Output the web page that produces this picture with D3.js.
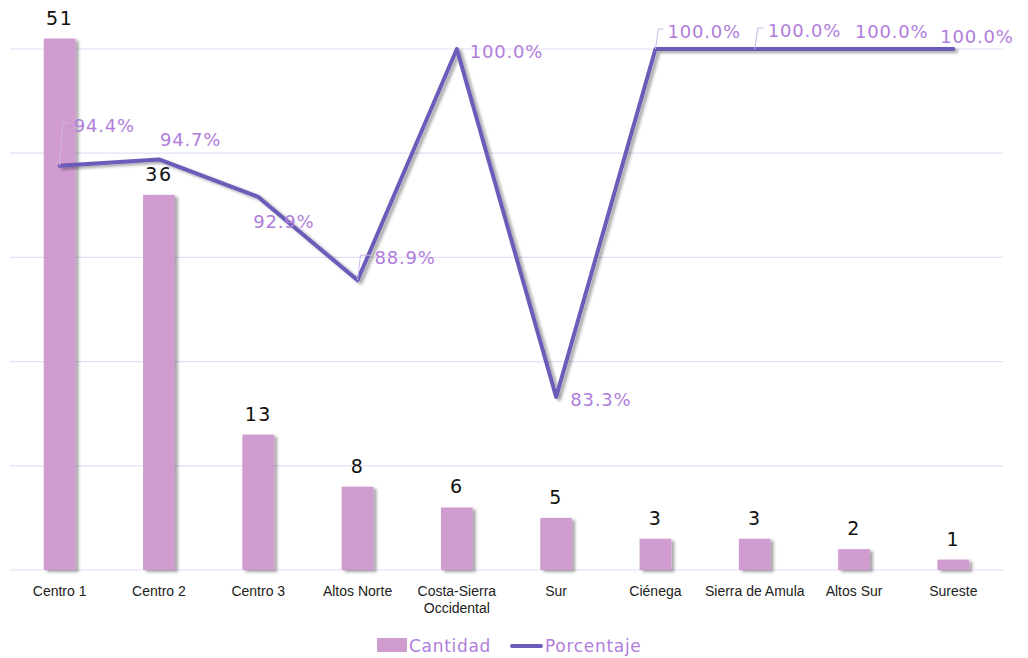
<!DOCTYPE html>
<html>
<head>
<meta charset="utf-8">
<script src="https://cdn.jsdelivr.net/npm/d3@7"></script>
<style>
  html, body { margin: 0; padding: 0; background: #fff; }
  svg { display: block; }
</style>
</head>
<body>
<div id="chart"></div>
<script>
const regions = ['Centro 1', 'Centro 2', 'Centro 3', 'Altos Norte', 'Costa-Sierra\nOccidental',
                 'Sur', 'Ciénega', 'Sierra de Amula', 'Altos Sur', 'Sureste'];
const cantidad   = [51, 36, 13, 8, 6, 5, 3, 3, 2, 1];
const porcentaje = [94.4, 94.7, 92.9, 88.9, 100.0, 83.3, 100.0, 100.0, 100.0, 100.0];
const countTicks = [0, 10, 20, 30, 40, 50];

// label placement for the percentage labels (dx, dy from the point; leader = elbow line)
const pctLabelPos = [
  { dx: 14, dy: -34, leader: true },
  { dx: 1,  dy: -13 },
  { dx: -5, dy: 31 },
  { dx: 17, dy: -16, leader: true },
  { dx: 13, dy: 9 },
  { dx: 14, dy: 9 },
  { dx: 12, dy: -11, leader: true },
  { dx: 13, dy: -12, leader: true },
  { dx: 1,  dy: -11 },
  { dx: -13, dy: -6 }
];

const BAR   = '#d09ccf';
const LINE  = '#6a5cb8';
const PCT   = '#b07ddc';
const GRID  = '#e8dcf7';
const INK   = '#111';
const W = 1028, H = 658;
const plotL = 10, plotR = 1003, plotT = 49, plotB = 570;

const svg = d3.select('#chart').append('svg')
  .attr('width', W).attr('height', H)
  .attr('viewBox', `0 0 ${W} ${H}`);

const defs = svg.append('defs');
const shadow = defs.append('filter').attr('id', 'shadow')
  .attr('x', '-20%').attr('y', '-20%').attr('width', '150%').attr('height', '150%');
shadow.append('feDropShadow')
  .attr('dx', 3).attr('dy', 2).attr('stdDeviation', 1.6)
  .attr('flood-color', '#000').attr('flood-opacity', 0.35);

const x = d3.scaleBand().domain(regions).range([plotL, plotR]).paddingInner(0.68).paddingOuter(0.34);
const yCount = d3.scaleLinear().domain([0, 50]).range([plotB, plotT]);
const yPct = d3.scaleLinear().domain([75, 100]).range([plotB, plotT]);
const cx = d => x(d) + x.bandwidth() / 2;

// gridlines
svg.append('g').selectAll('line')
  .data(countTicks)
  .join('line')
  .attr('x1', plotL).attr('x2', plotR)
  .attr('y1', d => yCount(d)).attr('y2', d => yCount(d))
  .attr('stroke', GRID).attr('stroke-width', 1.2);

// bars
svg.append('g').selectAll('rect')
  .data(regions)
  .join('rect')
  .attr('x', d => x(d))
  .attr('y', (d, i) => yCount(cantidad[i]))
  .attr('width', x.bandwidth())
  .attr('height', (d, i) => plotB - yCount(cantidad[i]))
  .attr('fill', BAR)
  .attr('filter', 'url(#shadow)');

// bar value labels
svg.append('g').selectAll('text')
  .data(regions)
  .join('text')
  .attr('x', d => cx(d))
  .attr('y', (d, i) => yCount(cantidad[i]) - 14)
  .attr('text-anchor', 'middle')
  .attr('font-family', '"DejaVu Sans", sans-serif')
  .attr('font-size', 19)
  .attr('letter-spacing', 1.5)
  .attr('fill', INK)
  .text((d, i) => cantidad[i]);

// category axis labels
const xl = svg.append('g').selectAll('text')
  .data(regions)
  .join('text')
  .attr('x', d => cx(d))
  .attr('y', 596)
  .attr('text-anchor', 'middle')
  .attr('font-family', '"Liberation Sans", Arial, sans-serif')
  .attr('font-size', 14)
  .attr('fill', '#222');
xl.selectAll('tspan')
  .data(d => d.split('\n'))
  .join('tspan')
  .attr('x', function () { return d3.select(this.parentNode).attr('x'); })
  .attr('dy', (d, i) => i === 0 ? 0 : 17)
  .text(d => d);

// line
const line = d3.line()
  .x(d => cx(d))
  .y((d, i) => yPct(porcentaje[i]));
svg.append('path')
  .datum(regions)
  .attr('d', line)
  .attr('fill', 'none')
  .attr('stroke', LINE)
  .attr('stroke-width', 4)
  .attr('stroke-linejoin', 'round')
  .attr('stroke-linecap', 'round')
  .attr('filter', 'url(#shadow)');

// leader lines
svg.append('g').selectAll('path')
  .data(regions.filter((d, i) => pctLabelPos[i].leader))
  .join('path')
  .attr('d', d => {
    const i = regions.indexOf(d);
    const px = cx(d), py = yPct(porcentaje[i]);
    const p = pctLabelPos[i];
    const ty = py + p.dy - 9;
    return `M${px},${py} L${px + 3},${ty} L${px + p.dx - 4},${ty}`;
  })
  .attr('fill', 'none')
  .attr('stroke', '#cdb4ea')
  .attr('stroke-width', 1);

// percentage labels
svg.append('g').selectAll('text')
  .data(regions)
  .join('text')
  .attr('x', (d, i) => cx(d) + pctLabelPos[i].dx)
  .attr('y', (d, i) => yPct(porcentaje[i]) + pctLabelPos[i].dy)
  .attr('font-family', '"DejaVu Sans", sans-serif')
  .attr('font-size', 18)
  .attr('letter-spacing', 0.8)
  .attr('fill', PCT)
  .text((d, i) => porcentaje[i].toFixed(1) + '%');

// legend
const lg = svg.append('g').attr('font-family', '"DejaVu Sans", sans-serif')
  .attr('font-size', 17).attr('letter-spacing', 0.7);
lg.append('rect').attr('x', 377).attr('y', 638).attr('width', 30).attr('height', 14).attr('fill', BAR);
lg.append('text').attr('x', 409).attr('y', 652).attr('fill', PCT).text('Cantidad');
lg.append('line').attr('x1', 512).attr('x2', 541).attr('y1', 646).attr('y2', 646)
  .attr('stroke', LINE).attr('stroke-width', 4).attr('stroke-linecap', 'round');
lg.append('text').attr('x', 545).attr('y', 652).attr('fill', PCT).text('Porcentaje');
</script>
</body>
</html>
